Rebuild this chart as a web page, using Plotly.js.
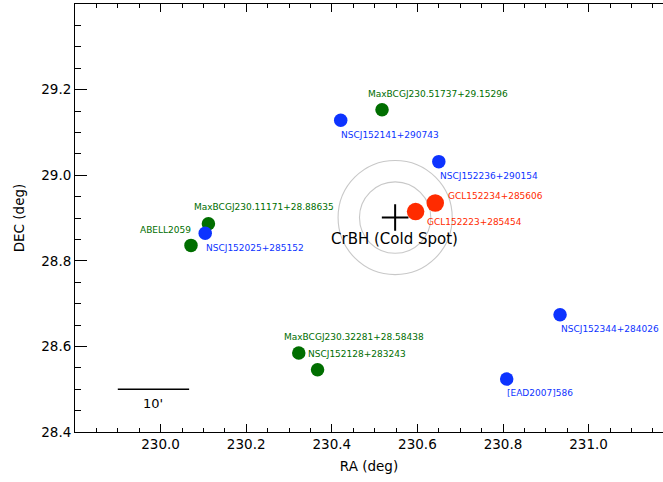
<!DOCTYPE html>
<html>
<head>
<meta charset="utf-8">
<script src="https://cdn.plot.ly/plotly-3.0.1.min.js"></script>
<style>html,body{margin:0;padding:0;background:#fff;}#chart{width:663px;height:482px;}</style>
</head>
<body>
<div id="chart"></div>
<script>
// ---- data ----
const greenNames = ["MaxBCGJ230.51737+29.15296", "MaxBCGJ230.11171+28.88635", "ABELL2059", "MaxBCGJ230.32281+28.58438", "NSCJ152128+283243"];
const greenRA    = [230.51737, 230.11171, 230.071, 230.32281, 230.3667];
const greenDec   = [29.15296, 28.88635, 28.836, 28.58438, 28.5453];

const blueNames = ["NSCJ152141+290743", "NSCJ152236+290154", "NSCJ152025+285152", "NSCJ152344+284026", "[EAD2007]586"];
const blueRA    = [230.4208, 230.6500, 230.1042, 230.9333, 230.8086];
const blueDec   = [29.1286, 29.0317, 28.8644, 28.6739, 28.5238];

const redNames = ["GCL152234+285606", "GCL152223+285454"];
const redRA    = [230.6417, 230.5958];
const redDec   = [28.9350, 28.9150];

const spotName = "CrBH (Cold Spot)";
const spotRA   = [230.548];
const spotDec  = [28.901];
const ringRadiiArcmin = [5, 8];

const scaleBarArcmin = 10;
const scaleBarStart = [229.9, 28.5];
const scaleBarLabel = "10'";

const xTickVals = [230.0, 230.2, 230.4, 230.6, 230.8, 231.0];
const yTickVals = [28.4, 28.6, 28.8, 29.0, 29.2];

// ---- styles ----
const GREEN = '#006e00', BLUE = '#0d33ff', RED = '#ff2b00';
const LBL = {family: 'DejaVu Sans', size: 9};
// label offsets in px: [dx, dy(down), anchor]
const greenOff = [[-14.3, -15.4, 'left'], [-14.4, -16.5, 'left'], [0.5, -15.3, 'right'], [-14.5, -16.4, 'left'], [-9.2, -15.8, 'left']];
const blueOff  = [[0.7, 14.4, 'left'], [0.7, 14.4, 'left'], [0.7, 14.4, 'left'], [0.7, 14.4, 'left'], [0.2, 14.3, 'left']];
const redOff   = [[13, -7.3, 'left'], [11.7, 10, 'left']];

const annotations = [];
function addLabels(names, ra, dec, off, color) {
  names.forEach((n, i) => {
    annotations.push({
      x: ra[i], y: dec[i], xref: 'x', yref: 'y', text: n, showarrow: false,
      xanchor: off[i][2], yanchor: 'middle', xshift: off[i][0], yshift: -off[i][1],
      font: Object.assign({color: color}, LBL), borderpad: 0, borderwidth: 0
    });
  });
}
addLabels(greenNames, greenRA, greenDec, greenOff, GREEN);
addLabels(blueNames, blueRA, blueDec, blueOff, BLUE);
addLabels(redNames, redRA, redDec, redOff, RED);
annotations.push({x: spotRA[0], y: spotDec[0], xref: 'x', yref: 'y', text: spotName, showarrow: false,
  xanchor: 'center', yanchor: 'middle', xshift: -1, yshift: -21.5, font: {family: 'DejaVu Sans', size: 15, color: '#000'}, borderpad: 0});
const barLen = scaleBarArcmin / 60;
annotations.push({x: scaleBarStart[0] + barLen / 2, y: scaleBarStart[1], xref: 'x', yref: 'y', text: scaleBarLabel, showarrow: false,
  xanchor: 'center', yanchor: 'middle', yshift: -14.5, font: {family: 'DejaVu Sans', size: 13, color: '#000'}, borderpad: 0});

const shapes = ringRadiiArcmin.map(r => ({
  type: 'circle', xref: 'x', yref: 'y', layer: 'below',
  x0: spotRA[0] - r / 60, x1: spotRA[0] + r / 60, y0: spotDec[0] - r / 60, y1: spotDec[0] + r / 60,
  line: {color: '#c8c8c8', width: 1.1}
}));
shapes.push({type: 'line', xref: 'x', yref: 'y', x0: scaleBarStart[0], x1: scaleBarStart[0] + barLen,
  y0: scaleBarStart[1], y1: scaleBarStart[1], line: {color: '#000', width: 1.5}});

const traces = [
  {type: 'scatter', mode: 'markers', x: spotRA, y: spotDec, hoverinfo: 'skip',
   marker: {symbol: 'cross-thin', size: 19, color: '#000', line: {color: '#000', width: 2}}},
  {type: 'scatter', mode: 'markers', x: greenRA, y: greenDec, text: greenNames,
   marker: {size: 13.5, color: GREEN}},
  {type: 'scatter', mode: 'markers', x: blueRA, y: blueDec, text: blueNames,
   marker: {size: 13.5, color: BLUE}},
  {type: 'scatter', mode: 'markers', x: redRA, y: redDec, text: redNames,
   marker: {size: 17.5, color: RED}}
];

const W = 663, H = 482, ML = 75, MR = 0, MT = 4, MB = 50;
const pxPerDeg = (H - MT - MB) / 1.0;
const xMin = 229.8, xMax = xMin + (W - ML - MR) / pxPerDeg;

const axisFont = {family: 'DejaVu Sans', size: 13.5, color: '#000'};
const layout = {
  width: W, height: H,
  margin: {l: ML, r: MR, t: MT, b: MB, pad: 0},
  paper_bgcolor: '#fff', plot_bgcolor: '#fff',
  showlegend: false,
  xaxis: {
    range: [xMin, xMax], tickmode: 'array', tickvals: xTickVals, tickformat: '.1f',
    ticks: 'inside', ticklen: 8, tickwidth: 1, tickcolor: '#000',
    minor: {dtick: 0.05, tick0: 230, ticks: 'inside', ticklen: 4, tickwidth: 1, tickcolor: '#000', showgrid: false},
    showline: true, linecolor: '#000', linewidth: 1, mirror: 'ticks',
    showgrid: false, zeroline: false, tickfont: axisFont,
    title: {text: 'RA (deg)', font: axisFont, standoff: 10}
  },
  yaxis: {
    range: [28.4, 29.4], tickmode: 'array', tickvals: yTickVals, tickformat: '.1f',
    ticks: 'inside', ticklen: 12, tickwidth: 1, tickcolor: '#000',
    minor: {dtick: 0.05, tick0: 28.4, ticks: 'inside', ticklen: 6, tickwidth: 1, tickcolor: '#000', showgrid: false},
    showline: true, linecolor: '#000', linewidth: 1, mirror: false,
    showgrid: false, zeroline: false, tickfont: axisFont,
    title: {text: 'DEC (deg)', font: axisFont, standoff: 13}
  },
  shapes: shapes,
  annotations: annotations
};

Plotly.newPlot('chart', traces, layout, {staticPlot: true, displayModeBar: false});
</script>
</body>
</html>
